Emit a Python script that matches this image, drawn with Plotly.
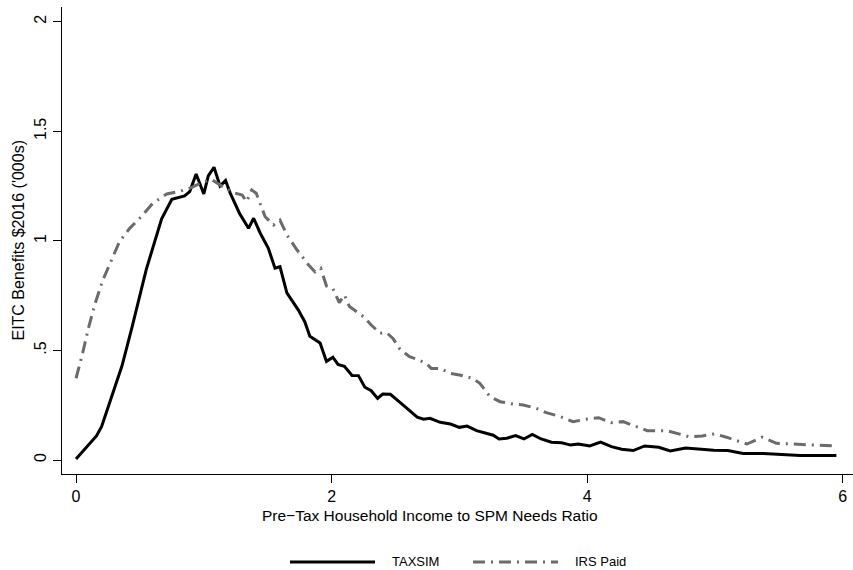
import plotly.graph_objects as go

# EITC benefit profile by income-to-needs ratio
taxsim_ratio = [0.00, 0.16, 0.20, 0.36, 0.44, 0.55, 0.67, 0.75, 0.85, 0.89,
                0.94, 1.00, 1.035, 1.08, 1.127, 1.17, 1.205, 1.28, 1.35, 1.39,
                1.44, 1.505, 1.557, 1.596, 1.65, 1.74, 1.79, 1.83, 1.91, 1.96,
                2.01, 2.05, 2.10, 2.16, 2.21, 2.26, 2.31, 2.36, 2.40, 2.46,
                2.535, 2.60, 2.67, 2.72, 2.77, 2.85, 2.93, 3.00, 3.06, 3.135,
                3.21, 3.265, 3.31, 3.37, 3.44, 3.505, 3.57, 3.64, 3.72, 3.80,
                3.87, 3.93, 4.02, 4.105, 4.19, 4.27, 4.36, 4.45, 4.56, 4.65,
                4.77, 4.87, 4.99, 5.10, 5.22, 5.38, 5.52, 5.665, 5.95]
taxsim_benefit = [0.005, 0.11, 0.152, 0.43, 0.61, 0.87, 1.10, 1.19, 1.205, 1.225,
                  1.305, 1.214, 1.296, 1.336, 1.25, 1.275, 1.22, 1.125, 1.057, 1.103,
                  1.037, 0.966, 0.875, 0.882, 0.763, 0.684, 0.631, 0.565, 0.534, 0.45,
                  0.469, 0.436, 0.428, 0.386, 0.385, 0.332, 0.316, 0.281, 0.301, 0.30,
                  0.263, 0.231, 0.195, 0.186, 0.19, 0.172, 0.164, 0.149, 0.155, 0.134,
                  0.122, 0.113, 0.096, 0.099, 0.111, 0.096, 0.117, 0.096, 0.081, 0.079,
                  0.068, 0.073, 0.064, 0.082, 0.061, 0.049, 0.043, 0.064, 0.058, 0.041,
                  0.055, 0.049, 0.044, 0.043, 0.030, 0.030, 0.026, 0.020, 0.020]

irs_ratio = [0.00, 0.045, 0.10, 0.15, 0.21, 0.28, 0.34, 0.42, 0.51, 0.60,
             0.71, 0.80, 0.89, 0.98, 1.06, 1.15, 1.23, 1.30, 1.335, 1.375,
             1.41, 1.48, 1.545, 1.596, 1.65, 1.73, 1.82, 1.87, 1.915, 1.96,
             2.01, 2.06, 2.10, 2.14, 2.25, 2.31, 2.38, 2.43, 2.48, 2.535,
             2.61, 2.67, 2.74, 2.78, 2.85, 2.93, 3.00, 3.10, 3.16, 3.24,
             3.32, 3.42, 3.50, 3.60, 3.68, 3.79, 3.89, 4.00, 4.09, 4.19,
             4.28, 4.47, 4.62, 4.80, 4.90, 5.00, 5.09, 5.25, 5.37, 5.48,
             5.665, 5.95]
irs_benefit = [0.373, 0.471, 0.608, 0.715, 0.821, 0.913, 0.996, 1.057, 1.11, 1.171,
               1.214, 1.224, 1.24, 1.265, 1.28, 1.247, 1.22, 1.209, 1.179, 1.232,
               1.217, 1.11, 1.072, 1.095, 1.027, 0.958, 0.89, 0.859, 0.875, 0.794,
               0.783, 0.718, 0.753, 0.70, 0.654, 0.616, 0.578, 0.581, 0.555, 0.505,
               0.471, 0.459, 0.441, 0.418, 0.418, 0.395, 0.388, 0.373, 0.35, 0.289,
               0.266, 0.255, 0.251, 0.236, 0.216, 0.198, 0.175, 0.187, 0.193, 0.170,
               0.175, 0.134, 0.134, 0.106, 0.11, 0.119, 0.104, 0.073, 0.104, 0.076,
               0.072, 0.064]

x_ticks = [0, 2, 4, 6]
y_ticks = [0, 0.5, 1, 1.5, 2]
y_tick_labels = ["0", ".5", "1", "1.5", "2"]

FONT = "Liberation Sans, Arial, Helvetica, sans-serif"
TAX_COLOR = "#000000"
IRS_COLOR = "#6b6b6b"
IRS_DASH = "12px,6px,2px,6px"

fig = go.Figure()
fig.add_trace(go.Scatter(x=taxsim_ratio, y=taxsim_benefit, mode="lines", name="TAXSIM",
                         line=dict(color=TAX_COLOR, width=3), showlegend=False))
fig.add_trace(go.Scatter(x=irs_ratio, y=irs_benefit, mode="lines", name="IRS Paid",
                         line=dict(color=IRS_COLOR, width=3, dash=IRS_DASH), showlegend=False))

axis_common = dict(showgrid=False, zeroline=False, showline=True, linecolor="#000000",
                   linewidth=1.3, ticks="outside", ticklen=8, tickwidth=1.3,
                   tickcolor="#000000", tickfont=dict(family=FONT, size=16, color="#000000"))

fig.update_xaxes(range=[-0.1096, 6.08], tickvals=x_ticks, **axis_common)
fig.update_yaxes(range=[-0.0639, 2.067], tickvals=y_ticks, ticktext=y_tick_labels,
                 tickangle=-90, **axis_common)

# axis titles
fig.add_annotation(text="EITC Benefits $2016 ('000s)", xref="paper", yref="paper",
                   x=-0.0556, y=0.5, xanchor="center", yanchor="middle", textangle=-90,
                   showarrow=False, font=dict(family=FONT, size=16, color="#000000"))
fig.add_annotation(text="Pre\u2212Tax Household Income to SPM Needs Ratio", xref="paper",
                   yref="paper", x=0.465, y=-0.0878, xanchor="center", yanchor="middle",
                   showarrow=False, font=dict(family=FONT, size=15.5, color="#000000"))

# legend row along the bottom
legend_y = -0.1884
legend_items = [
    ("TAXSIM", TAX_COLOR, "solid", 0.2882, 0.3957, 0.4147),
    ("IRS Paid", IRS_COLOR, IRS_DASH, 0.5196, 0.6271, 0.646),
]
for label, color, dash, x0, x1, xt in legend_items:
    fig.add_shape(type="line", xref="paper", yref="paper", x0=x0, x1=x1,
                  y0=legend_y, y1=legend_y, line=dict(color=color, width=3, dash=dash))
    fig.add_annotation(text=label, xref="paper", yref="paper", x=xt, y=legend_y,
                       xanchor="left", yanchor="middle", showarrow=False,
                       font=dict(family=FONT, size=13, color="#000000"))

fig.update_layout(width=853, height=570, plot_bgcolor="white", paper_bgcolor="white",
                  margin=dict(l=62, r=0, t=7, b=96), showlegend=False)

fig.write_html("out.html")
